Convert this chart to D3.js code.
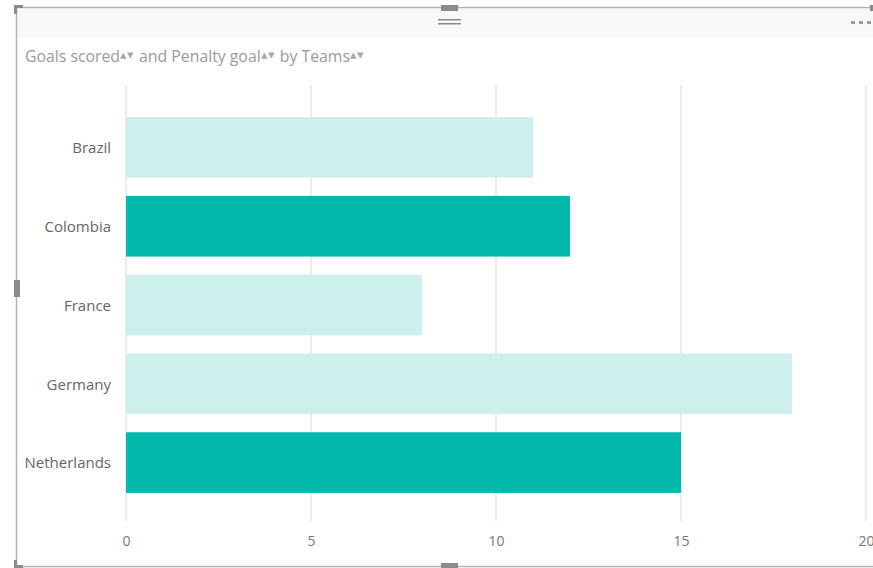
<!DOCTYPE html>
<html><head><meta charset="utf-8">
<script src="https://cdn.jsdelivr.net/npm/d3@7"></script>
<style>body{margin:0;background:#fff;}svg{display:block;font-family:"Segoe UI","Open Sans","Noto Sans",sans-serif;}</style>
</head><body>
<svg id="c" width="873" height="568"></svg>
<script>
const teams = ["Brazil","Colombia","France","Germany","Netherlands"];
const goals = [11,12,8,18,15];
const highlighted = [false,true,false,false,true];
const xTicks = [0,5,10,15,20];
const titleParts = ["Goals scored","and Penalty goal","by Teams"];

const svg = d3.select("#c");
// frame
svg.append("rect").attr("x",17).attr("y",8).attr("width",860).attr("height",30).attr("fill","#f8f8f8");
svg.append("path").attr("d","M16.5,566.5V7.5H873").attr("fill","none").attr("stroke","#b4b4b4").attr("stroke-width",1.5);
svg.append("path").attr("d","M16.5,566.5H873").attr("fill","none").attr("stroke","#b4b4b4").attr("stroke-width",1.5);
const hc = "#8c8c8c";
svg.append("path").attr("d","M14,14V5H23V8H17V14Z").attr("fill",hc);
svg.append("path").attr("d","M14,560V568H23V565H17V560Z").attr("fill",hc);
svg.append("rect").attr("x",441).attr("y",5).attr("width",17).attr("height",6).attr("fill",hc);
svg.append("rect").attr("x",441).attr("y",563).attr("width",17).attr("height",5).attr("fill",hc);
svg.append("rect").attr("x",14).attr("y",280).attr("width",6).attr("height",17).attr("fill",hc);
svg.append("rect").attr("x",870).attr("y",5).attr("width",3).attr("height",6).attr("fill",hc);
svg.append("rect").attr("x",438).attr("y",19).attr("width",23).attr("height",1.5).attr("fill","#8a8a8a");
svg.append("rect").attr("x",438).attr("y",23).attr("width",23).attr("height",1.5).attr("fill","#8a8a8a");
[851,859,867].forEach(x=>svg.append("rect").attr("x",x).attr("y",21).attr("width",4).attr("height",3).attr("fill","#9a9aa8"));

// title
const t = svg.append("text").attr("x",25).attr("y",62).attr("font-size",15.8).attr("fill","#9a9a9a");
titleParts.forEach((p,i)=>{
  t.append("tspan").attr("y",62).text((i>0?" ":"")+p);
  t.append("tspan").attr("y",59).attr("font-size",13).attr("letter-spacing",0.5).attr("fill","#a8a8a8").text("▴▾");
});

const x = d3.scaleLinear().domain([0,20]).range([126,866]);
const y = d3.scaleBand().domain(teams).range([108,502]).paddingInner(0.23).paddingOuter(0.115);

// grid
svg.append("g").selectAll("line").data(xTicks).join("line")
  .attr("x1",d=>x(d)).attr("x2",d=>x(d)).attr("y1",85).attr("y2",521)
  .attr("stroke","#ececec").attr("stroke-width",2);

// bars
svg.append("g").selectAll("rect").data(teams).join("rect")
  .attr("x",x(0)).attr("y",d=>y(d)).attr("height",y.bandwidth())
  .attr("width",(d,i)=>x(goals[i])-x(0))
  .attr("fill",(d,i)=>highlighted[i]?"#01b8aa":"#cdf0ed");

// axes
const xa = svg.append("g").attr("transform","translate(0,530)")
  .call(d3.axisBottom(x).tickValues(xTicks).tickSize(0).tickPadding(6));
xa.select(".domain").remove();
xa.selectAll("text").attr("font-size",14).attr("fill","#777").attr("font-family","\"Segoe UI\",\"Open Sans\",sans-serif");

const ya = svg.append("g").attr("transform","translate(111,1)")
  .call(d3.axisLeft(y).tickSize(0).tickPadding(0));
ya.select(".domain").remove();
ya.selectAll("text").attr("font-size",15).attr("fill","#666").attr("font-family","\"Segoe UI\",\"Open Sans\",sans-serif");
</script>
</body></html>
